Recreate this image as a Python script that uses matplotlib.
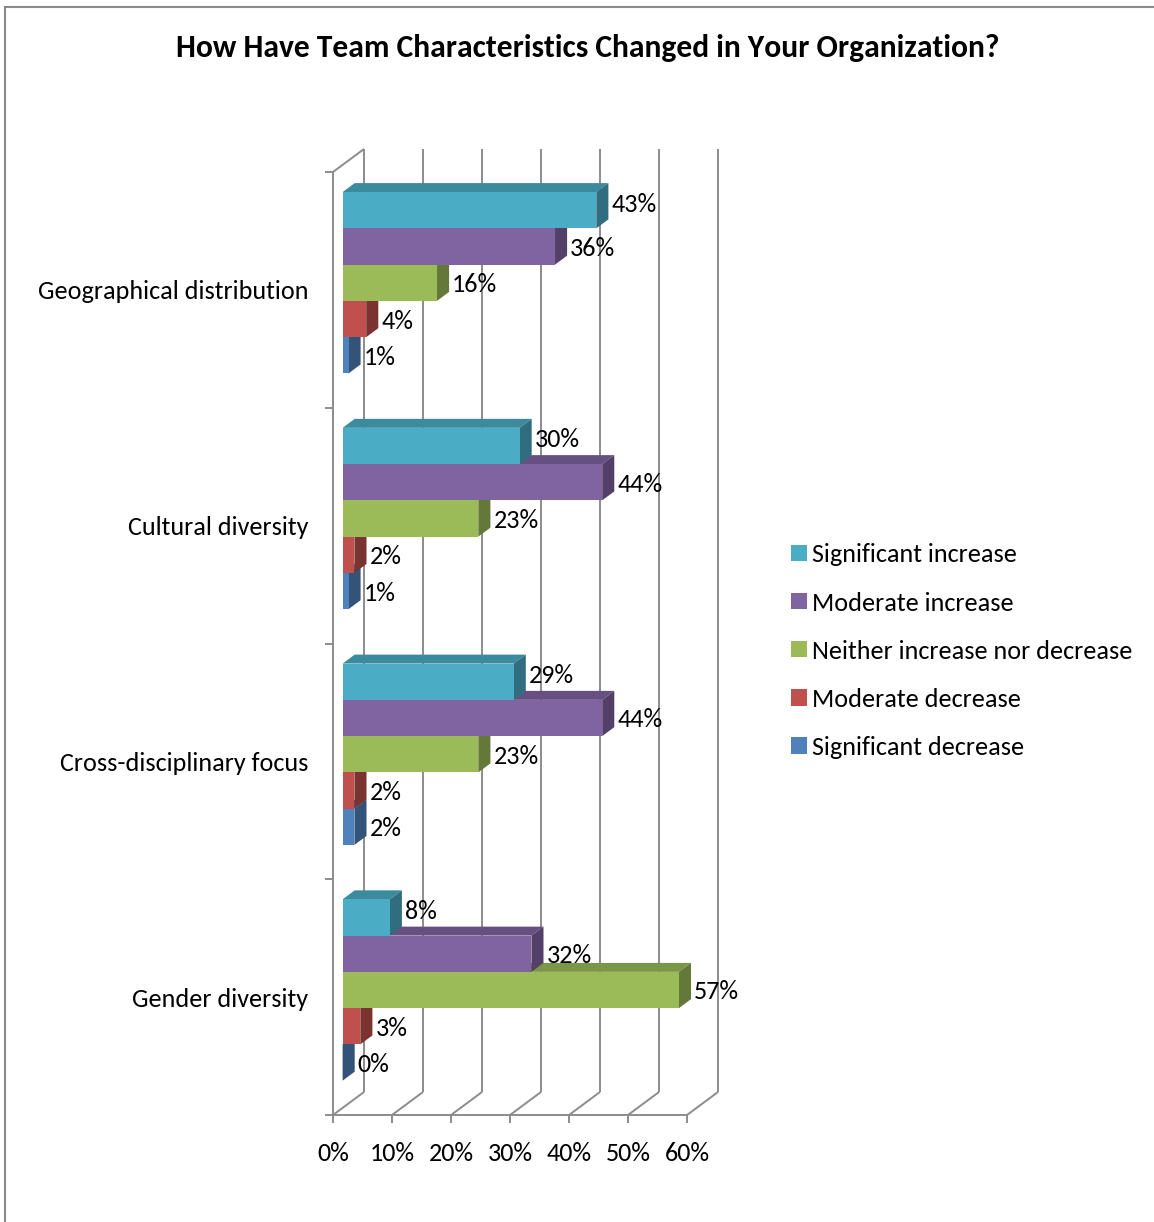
import matplotlib
matplotlib.use('Agg')
import matplotlib.pyplot as plt
from matplotlib.patches import Polygon, Patch
from matplotlib.lines import Line2D
from matplotlib.colors import to_rgb
from matplotlib import font_manager

# Data (percent)
categories = ['Geographical distribution', 'Cultural diversity',
              'Cross-disciplinary focus', 'Gender diversity']
series_names = ['Significant increase', 'Moderate increase',
                'Neither increase nor decrease', 'Moderate decrease',
                'Significant decrease']
significant_increase = [43, 30, 29, 8]
moderate_increase = [36, 44, 44, 32]
neither = [16, 23, 23, 57]
moderate_decrease = [4, 2, 2, 3]
significant_decrease = [1, 1, 2, 0]
series_values = [significant_increase, moderate_increase, neither,
                 moderate_decrease, significant_decrease]
x_ticks = [0, 10, 20, 30, 40, 50, 60]

colors = ['#4BACC6', '#8064A2', '#9BBB59', '#C0504D', '#4F81BD']
GRID = '#8c8c8c'
FS = 18.8

names = {f.name for f in font_manager.fontManager.ttflist}
font = 'Carlito' if 'Carlito' in names else 'Lato'
plt.rcParams['font.family'] = [font, 'DejaVu Sans']

W, H = 1154, 1222
fig = plt.figure(figsize=(W / 100, H / 100), dpi=100)
ax = fig.add_axes([333 / W, 1 - 1115 / H, 354 / W, 943 / H])
ax.set_xlim(0, 60)
ax.set_ylim(0, len(categories))
ax.set_facecolor('none')

# 3d box depth in data units, bar depth as fraction of box depth
DX, DY = 31 / 5.9, 23 / 235.75
D0, D1 = 0.31, 0.70
GAP = 1.5
bw = 1 / (len(series_names) + GAP)
PX = 1 / 235.75  # one pixel in y data units


def shade(c, f):
    return tuple(v * f for v in to_rgb(c))


# back wall gridlines + floor diagonals
top = len(categories)
gkw = dict(color=GRID, lw=1.4, zorder=1, clip_on=False, solid_capstyle='butt')
for t in x_ticks:
    ax.plot([t + DX, t + DX], [DY, top + DY], **gkw)
    ax.plot([t, t + DX], [0, DY], **gkw)
ax.plot([0, DX], [top, top + DY], **gkw)

# bars
ox, oy = D0 * DX, D0 * DY
ddx, ddy = (D1 - D0) * DX, (D1 - D0) * DY
z = 2
for i, cat in enumerate(categories):
    c = top - 0.5 - i
    for j in range(len(series_names) - 1, -1, -1):
        v = series_values[j][i]
        col = colors[j]
        yt = c + 2.5 * bw - j * bw + oy
        yb = yt - bw
        front = [(ox, yb), (ox + v, yb), (ox + v, yt), (ox, yt)]
        topf = [(ox, yt), (ox + v, yt), (ox + v + ddx, yt + ddy), (ox + ddx, yt + ddy)]
        side = [(ox + v, yb), (ox + v + ddx, yb + ddy), (ox + v + ddx, yt + ddy), (ox + v, yt)]
        ax.add_patch(Polygon(topf, closed=True, fc=shade(col, 0.8), ec='none', zorder=z, clip_on=False))
        ax.add_patch(Polygon(side, closed=True, fc=shade(col, 0.64), ec='none', zorder=z, clip_on=False))
        ax.add_patch(Polygon(front, closed=True, fc=col, ec='none', zorder=z, clip_on=False))
        # labels sit a touch below bar centre; first series label is nudged up
        ly = (yb + yt) / 2 - 2 * PX + (8 * PX if j == 0 else 0)
        ax.text(ox + v + ddx + 0.5, ly, f'{v}%',
                ha='left', va='center', fontsize=FS, color='black', zorder=z + 1)
        z += 1

# axes
for s in ['top', 'right']:
    ax.spines[s].set_visible(False)
for s in ['left', 'bottom']:
    ax.spines[s].set_color(GRID)
    ax.spines[s].set_linewidth(1.4)
ax.set_xticks(x_ticks)
ax.set_xticklabels([f'{t}%' for t in x_ticks])
ax.tick_params(axis='x', length=5.8, width=1.4, color=GRID, pad=13.5, labelsize=FS)
ax.set_yticks(range(top + 1))
ax.set_yticklabels([''] * (top + 1))
ax.tick_params(axis='y', which='major', length=5.8, width=1.4, color=GRID)
ax.set_yticks([top - 0.5 - i for i in range(top)], minor=True)
ax.set_yticklabels(categories, minor=True)
ax.tick_params(axis='y', which='minor', length=0, pad=18, labelsize=FS)

# legend
handles = [Patch(fc=c, ec='none') for c in colors]
fig.legend(handles, series_names, loc='upper left',
           bbox_to_anchor=(781 / W, 1 - 533 / H), frameon=False,
           handlelength=0.58, handleheight=0.58, handletextpad=0.22,
           labelspacing=0.96, fontsize=FS, borderaxespad=0)

fig.text(588 / W, 1 - 48 / H, 'How Have Team Characteristics Changed in Your Organization?',
         ha='center', va='center', fontsize=22.7, fontweight='bold')

# chart border (top and left edges visible)
fig.add_artist(Line2D([5 / W, 1], [1 - 7 / H, 1 - 7 / H], transform=fig.transFigure, color='#8a8a8a', lw=1.5))
fig.add_artist(Line2D([5 / W, 5 / W], [0, 1 - 7 / H], transform=fig.transFigure, color='#8a8a8a', lw=1.5))

fig.savefig('out.png', dpi=100, facecolor='white')
